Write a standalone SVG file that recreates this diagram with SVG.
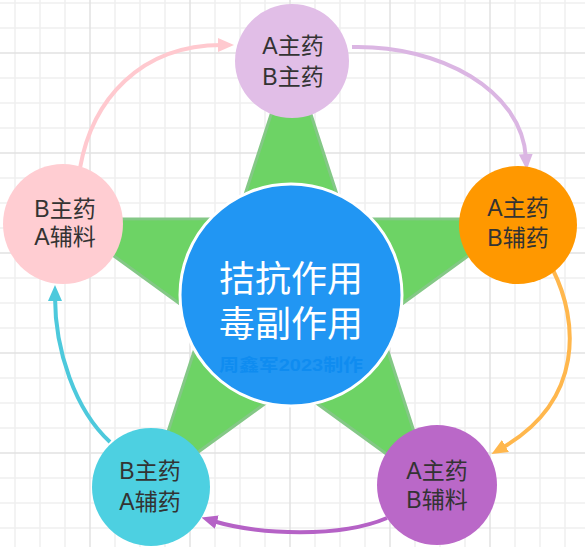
<svg xmlns="http://www.w3.org/2000/svg" width="585" height="547" viewBox="0 0 585 547">
<style>
.g1{stroke:#efefef;stroke-width:1.5}
.g2{stroke:#e2e2e2;stroke-width:1.5}
.lbl{font-family:"Liberation Sans","Noto Sans CJK SC",sans-serif;font-size:23px;fill:#333333;text-anchor:middle}
.big{font-family:"Liberation Sans","Noto Sans CJK SC",sans-serif;font-size:36px;fill:#ffffff;text-anchor:middle}
.wm{font-family:"Liberation Sans","Noto Sans CJK SC",sans-serif;font-size:17px;font-weight:bold;fill:#0f8cf0;text-anchor:middle}
.con{fill:none;stroke-width:4}
</style>
<defs>
<marker id="mPink" viewBox="0 0 16 14" markerWidth="16" markerHeight="14" refX="4" refY="7" orient="auto" markerUnits="userSpaceOnUse"><path d="M0,0 L16,7 L0,14 z" fill="#ffc9cf"/></marker>
<marker id="mLav" viewBox="0 0 16 14" markerWidth="16" markerHeight="14" refX="4" refY="7" orient="auto" markerUnits="userSpaceOnUse"><path d="M0,0 L16,7 L0,14 z" fill="#dbb6e3"/></marker>
<marker id="mOra" viewBox="0 0 16 14" markerWidth="16" markerHeight="14" refX="4" refY="7" orient="auto" markerUnits="userSpaceOnUse"><path d="M0,0 L16,7 L0,14 z" fill="#ffb74d"/></marker>
<marker id="mPur" viewBox="0 0 16 14" markerWidth="16" markerHeight="14" refX="4" refY="7" orient="auto" markerUnits="userSpaceOnUse"><path d="M0,0 L16,7 L0,14 z" fill="#b562c6"/></marker>
<marker id="mCya" viewBox="0 0 16 14" markerWidth="16" markerHeight="14" refX="4" refY="7" orient="auto" markerUnits="userSpaceOnUse"><path d="M0,0 L16,7 L0,14 z" fill="#4dc9dc"/></marker>
</defs>
<rect width="585" height="547" fill="#ffffff"/>
<g id="grid">
<g class="g1">
<line x1="15" y1="0" x2="15" y2="547"/><line x1="40" y1="0" x2="40" y2="547"/><line x1="65" y1="0" x2="65" y2="547"/>
<line x1="115" y1="0" x2="115" y2="547"/><line x1="140" y1="0" x2="140" y2="547"/><line x1="165" y1="0" x2="165" y2="547"/>
<line x1="215" y1="0" x2="215" y2="547"/><line x1="240" y1="0" x2="240" y2="547"/><line x1="265" y1="0" x2="265" y2="547"/>
<line x1="315" y1="0" x2="315" y2="547"/><line x1="340" y1="0" x2="340" y2="547"/><line x1="365" y1="0" x2="365" y2="547"/>
<line x1="415" y1="0" x2="415" y2="547"/><line x1="440" y1="0" x2="440" y2="547"/><line x1="465" y1="0" x2="465" y2="547"/>
<line x1="515" y1="0" x2="515" y2="547"/><line x1="540" y1="0" x2="540" y2="547"/><line x1="565" y1="0" x2="565" y2="547"/>
<line x1="0" y1="3" x2="585" y2="3"/><line x1="0" y1="28" x2="585" y2="28"/><line x1="0" y1="78" x2="585" y2="78"/>
<line x1="0" y1="103" x2="585" y2="103"/><line x1="0" y1="128" x2="585" y2="128"/><line x1="0" y1="178" x2="585" y2="178"/>
<line x1="0" y1="203" x2="585" y2="203"/><line x1="0" y1="228" x2="585" y2="228"/><line x1="0" y1="278" x2="585" y2="278"/>
<line x1="0" y1="303" x2="585" y2="303"/><line x1="0" y1="328" x2="585" y2="328"/><line x1="0" y1="378" x2="585" y2="378"/>
<line x1="0" y1="403" x2="585" y2="403"/><line x1="0" y1="428" x2="585" y2="428"/><line x1="0" y1="478" x2="585" y2="478"/>
<line x1="0" y1="503" x2="585" y2="503"/><line x1="0" y1="528" x2="585" y2="528"/>
</g>
<g class="g2">
<line x1="90" y1="0" x2="90" y2="547"/><line x1="190" y1="0" x2="190" y2="547"/><line x1="290" y1="0" x2="290" y2="547"/>
<line x1="390" y1="0" x2="390" y2="547"/><line x1="490" y1="0" x2="490" y2="547"/>
<line x1="0" y1="53" x2="585" y2="53"/><line x1="0" y1="153" x2="585" y2="153"/><line x1="0" y1="253" x2="585" y2="253"/>
<line x1="0" y1="353" x2="585" y2="353"/><line x1="0" y1="453" x2="585" y2="453"/>
</g>
</g>
<g id="star">
<polygon points="291,53 344.9,218.8 519,219 378.2,321.3 432,487 291,384.7 150,487 203.8,321.3 63,219 237.1,218.8" fill="#6dd365" stroke="#84c886" stroke-width="3" stroke-linejoin="miter"/>
</g>
<g id="center">
<circle cx="291" cy="295" r="111" fill="#2196f3" stroke="#ffffff" stroke-width="3"/>
<text class="big" x="291" y="292">拮抗作用</text>
<text class="big" x="291" y="337">毒副作用</text>
<text class="wm" x="291" y="371" textLength="144" lengthAdjust="spacingAndGlyphs">周鑫军2023制作</text>
</g>
<g id="connectors">
<path class="con" d="M80,168 C92,100 140,45 222,45" stroke="#ffc9cf" marker-end="url(#mPink)"/>
<path class="con" d="M352,47 C440,45 522,90 526,158" stroke="#dbb6e3" marker-end="url(#mLav)"/>
<path class="con" d="M553,270 C578,320 585,400 502,448" stroke="#ffb74d" marker-end="url(#mOra)"/>
<path class="con" d="M387,518 C340,538 260,535 213,521" stroke="#b562c6" marker-end="url(#mPur)"/>
<path class="con" d="M110,442 C75,410 55,350 55,297" stroke="#4dc9dc" marker-end="url(#mCya)"/>
</g>
<g id="node-top">
<circle cx="292" cy="61" r="57" fill="#e1bee7"/>
<text class="lbl" x="293" y="54">A主药</text>
<text class="lbl" x="293" y="85">B主药</text>
</g>
<g id="node-right">
<circle cx="518" cy="225" r="59" fill="#ff9800"/>
<text class="lbl" x="518" y="216">A主药</text>
<text class="lbl" x="518" y="246">B辅药</text>
</g>
<g id="node-bottom-right">
<circle cx="437" cy="485" r="60" fill="#ba68c8"/>
<text class="lbl" x="437" y="479">A主药</text>
<text class="lbl" x="437" y="508">B辅料</text>
</g>
<g id="node-bottom-left">
<circle cx="151" cy="487" r="59" fill="#4dd0e1"/>
<text class="lbl" x="150" y="479">B主药</text>
<text class="lbl" x="150" y="510">A辅药</text>
</g>
<g id="node-left">
<circle cx="63" cy="224" r="60" fill="#ffcdd2"/>
<text class="lbl" x="65" y="217">B主药</text>
<text class="lbl" x="65" y="245">A辅料</text>
</g>
</svg>
